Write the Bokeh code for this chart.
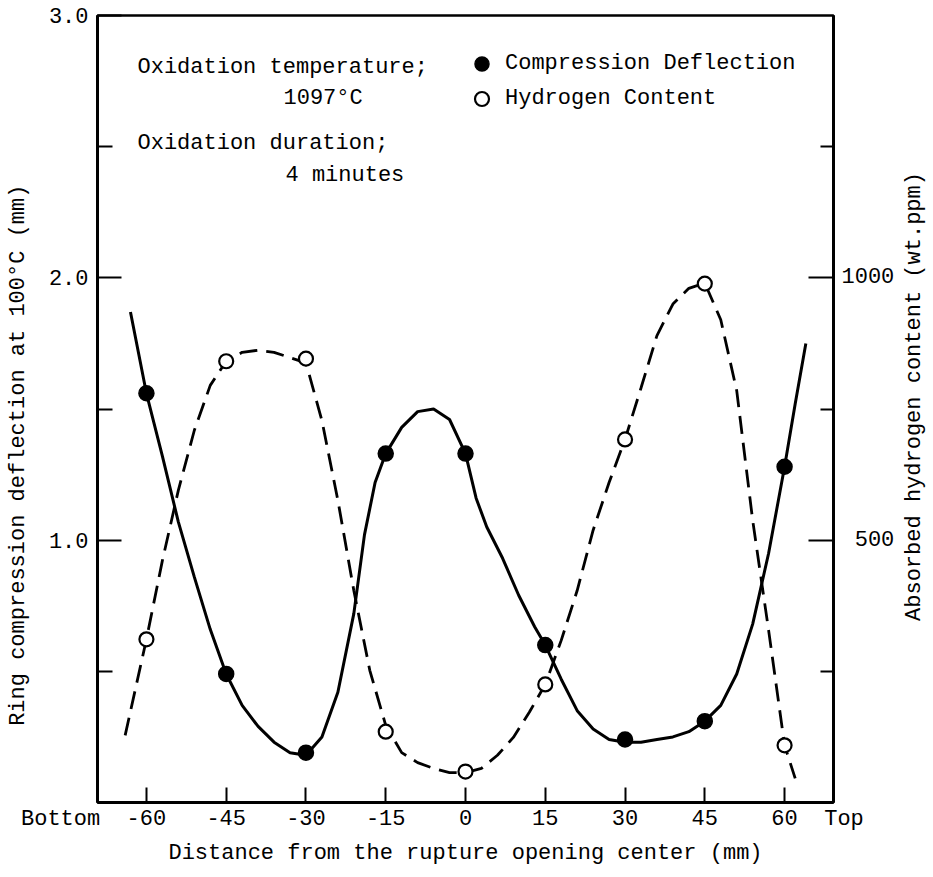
import math
from bokeh.plotting import figure
from bokeh.layouts import row
from bokeh.models import (Range1d, LinearAxis, FixedTicker, Label, Legend,
                          LegendItem, PrintfTickFormatter)
from bokeh.embed import file_html
from bokeh.resources import INLINE

# ---- data ----
x_ticks = [-60, -45, -30, -15, 0, 15, 30, 45, 60]
x_tick_labels = ["-60", "-45", "-30", "-15", "0", "15", "30", "45", "60"]
x_end_labels = ["Bottom", "Top"]

pos_mm = [-60, -45, -30, -15, 0, 15, 30, 45, 60]
deflection_mm = [1.56, 0.49, 0.19, 1.33, 1.33, 0.60, 0.24, 0.31, 1.28]
hydrogen_ppm = [311, 841, 846, 135, 59, 225, 692, 989, 109]

# hand-drawn fit curves
defl_curve_x = [-63, -60, -57, -54, -51, -48, -45, -42, -39, -36, -33, -30, -27,
                -24, -21, -19, -17, -15, -12, -9, -6, -3, 0, 2, 4, 7, 10, 13,
                15, 18, 21, 24, 27, 30, 33, 36, 39, 42, 45, 48, 51, 54, 57,
                60, 62, 64]
defl_curve_y = [1.87, 1.56, 1.32, 1.07, 0.86, 0.66, 0.49, 0.37, 0.29, 0.23, 0.19,
                0.18, 0.25, 0.42, 0.72, 1.02, 1.22, 1.33, 1.43, 1.49, 1.50, 1.46,
                1.33, 1.16, 1.05, 0.93, 0.79, 0.67, 0.60, 0.47, 0.35, 0.28, 0.24,
                0.23, 0.23, 0.24, 0.25, 0.27, 0.31, 0.37, 0.49, 0.68, 0.95, 1.28,
                1.52, 1.75]

hyd_curve_x = [-64, -60, -57, -54, -51, -48, -45, -42, -39, -36, -33, -30, -27,
               -24, -21, -18, -15, -12, -9, -6, -3, 0, 3, 6, 9, 12, 15, 18, 21,
               24, 27, 30, 33, 36, 39, 42, 45, 48, 51, 54, 57, 60, 62]
hyd_curve_y = [128, 311, 461, 595, 709, 795, 841, 858, 862, 858, 848, 838, 728,
               576, 404, 252, 147, 95, 76, 65, 57, 57, 65, 90, 124, 172, 225, 309,
               404, 519, 610, 692, 790, 890, 950, 980, 990, 920, 785, 538, 328,
               109, 46]

left_ticks = [1.0, 2.0, 3.0]
left_minor = [0.5, 1.5, 2.5]
right_ticks = [500, 1000]
right_minor = [250, 750, 1250]

FONT = "Liberation Mono"
FS = "22px"
NB = "\u00a0"
H = 868

p = figure(frame_width=736, frame_height=787,
           x_range=Range1d(-69.2, 69.2), y_range=Range1d(0, 3.0),
           output_backend="svg", toolbar_location=None,
           min_border_left=97, min_border_right=70,
           min_border_top=15, min_border_bottom=66,
           background_fill_color="white", border_fill_color="white")
p.extra_y_ranges = {"h": Range1d(0, 1500)}
p.grid.visible = False
p.outline_line_color = "black"
p.outline_line_width = 2.5

right = LinearAxis(y_range_name="h")
p.add_layout(right, "right")

for ax in (p.xaxis[0], p.yaxis[0], right):
    ax.axis_line_width = 3
    ax.axis_line_color = "black"
    ax.major_tick_out = 0
    ax.minor_tick_out = 0
    ax.major_tick_line_width = 2
    ax.minor_tick_line_width = 2
    ax.major_tick_line_color = "black"
    ax.minor_tick_line_color = "black"
    ax.major_label_text_font = FONT
    ax.major_label_text_font_size = FS
    ax.major_label_text_color = "black"
    ax.major_label_standoff = 9
    ax.axis_label_text_font = FONT
    ax.axis_label_text_font_size = FS
    ax.axis_label_text_font_style = "normal"
    ax.axis_label_text_color = "black"

# x axis: the end words share the line of the outer tick labels
xa = p.xaxis[0]
xa.ticker = FixedTicker(ticks=x_ticks, minor_ticks=[])
xa.major_tick_in = 15
overrides = {t: l for t, l in zip(x_ticks, x_tick_labels)}
overrides[x_ticks[0]] = x_end_labels[0] + NB * 2 + x_tick_labels[0] + NB * 8
overrides[x_ticks[-1]] = NB * 5 + x_tick_labels[-1] + NB * 2 + x_end_labels[1]
xa.major_label_overrides = overrides
xa.major_label_standoff = 4
xa.axis_label = "Distance from the rupture opening center (mm)"
xa.axis_label_standoff = 6

ya = p.yaxis[0]
ya.ticker = FixedTicker(ticks=left_ticks, minor_ticks=left_minor)
ya.major_tick_in = 24
ya.minor_tick_in = 15
ya.formatter = PrintfTickFormatter(format="%.1f")
ya.axis_label = "Ring compression deflection at 100°C (mm)" + NB * 7
ya.axis_label_standoff = 15

right.ticker = FixedTicker(ticks=right_ticks, minor_ticks=right_minor)
right.major_tick_in = 25
right.minor_tick_in = 13
right.major_label_overrides = {500: NB + "500", 1000: "1000"}
right.major_label_standoff = 8

# curves
p.line(defl_curve_x, defl_curve_y, line_color="black", line_width=3)
p.line(hyd_curve_x, hyd_curve_y, y_range_name="h", line_color="black",
       line_width=2.8, line_dash="18 9")

r1 = p.scatter(pos_mm, deflection_mm, marker="circle", size=15,
               fill_color="black", line_color="black", line_width=1.5)
r2 = p.scatter(pos_mm, hydrogen_ppm, y_range_name="h", marker="circle", size=14,
               fill_color="white", line_color="black", line_width=2.2)

legend = Legend(items=[LegendItem(label="Compression Deflection", renderers=[r1]),
                       LegendItem(label="Hydrogen Content", renderers=[r2])],
                location=(367, 686), glyph_width=35, glyph_height=35,
                spacing=0, padding=0, margin=0, label_standoff=6,
                border_line_color=None, background_fill_alpha=0,
                label_text_font=FONT, label_text_font_size=FS,
                label_text_color="black")
p.add_layout(legend)

def lab(fig, x, y, text, **kw):
    opts = dict(x=x, y=y, x_units="screen", y_units="screen", text=text,
                text_font=FONT, text_font_size=FS, text_color="black",
                text_baseline="middle")
    opts.update(kw)
    fig.add_layout(Label(**opts))

lab(p, 40, 735, "Oxidation temperature;")
lab(p, 186, 704, "1097°C")
lab(p, 40, 659, "Oxidation duration;")
lab(p, 188, 627, "4 minutes")

# right-hand axis title (reads bottom to top), in a narrow strip beside the plot
t = figure(width=24, height=H, x_range=Range1d(0, 1), y_range=Range1d(0, 1),
           output_backend="svg", toolbar_location=None,
           min_border_left=0, min_border_right=0, min_border_top=0,
           min_border_bottom=0, background_fill_color="white",
           border_fill_color="white")
t.axis.visible = False
t.grid.visible = False
t.outline_line_color = None
lab(t, 11, H - 462, "Absorbed hydrogen content (wt.ppm)", text_align="center",
    angle=math.pi / 2)

layout = row(p, t, spacing=0)
open("out.html", "w").write(file_html(layout, INLINE))
